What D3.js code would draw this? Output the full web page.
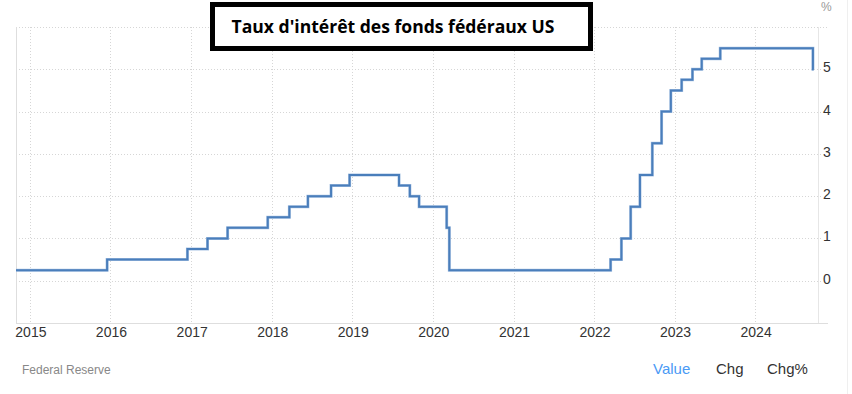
<!DOCTYPE html>
<html>
<head>
<meta charset="utf-8">
<script src="https://cdn.jsdelivr.net/npm/d3@7"></script>
<style>
  body { margin: 0; background: #fff; }
  svg { display: block; font-family: "Liberation Sans", Arial, sans-serif; }
</style>
</head>
<body>
<div id="chart"></div>
<script>
"use strict";

// Size of SVG
const w = 852;
const h = 394;

// Federal funds rate (upper bound), change dates and new level
const changeDates = [
  "2014-10-30", "2015-12-17", "2016-12-15", "2017-03-16", "2017-06-15",
  "2017-12-14", "2018-03-22", "2018-06-14", "2018-09-27", "2018-12-20",
  "2019-08-01", "2019-09-19", "2019-10-31", "2020-03-04", "2020-03-16",
  "2022-03-17", "2022-05-05", "2022-06-16", "2022-07-28", "2022-09-22",
  "2022-11-03", "2022-12-15", "2023-02-02", "2023-03-23", "2023-05-04",
  "2023-07-27", "2024-09-19", "2024-09-23"
];
const rates = [
  0.25, 0.50, 0.75, 1.00, 1.25,
  1.50, 1.75, 2.00, 2.25, 2.50,
  2.25, 2.00, 1.75, 1.25, 0.25,
  0.50, 1.00, 1.75, 2.50, 3.25,
  4.00, 4.50, 4.75, 5.00, 5.25,
  5.50, 5.00, 5.00
];
const yearTicks = [2015, 2016, 2017, 2018, 2019, 2020, 2021, 2022, 2023, 2024];
const rateTicks = [0, 1, 2, 3, 4, 5];
const gridRates = [0, 1, 2, 3, 4, 5, 6];

const parse = d3.timeParse("%Y-%m-%d");
const data = changeDates.map((d, i) => ({ date: parse(d), value: rates[i] }));

// Plot area
const plotLeft = 16, plotRight = 818, plotTop = 27, plotBottom = 323;

const x = d3.scaleTime()
  .domain([parse("2014-10-30"), parse("2024-10-12")])
  .range([plotLeft, plotRight]);

const y = d3.scaleLinear()
  .domain([-1, 6])
  .range([plotBottom, plotTop]);

const svg = d3.select("#chart")
  .append("svg")
  .attr("width", w)
  .attr("height", h);

// Horizontal grid
svg.append("g")
  .selectAll("line")
  .data(gridRates)
  .join("line")
  .attr("x1", plotLeft)
  .attr("x2", d => d === 6 ? 828 : 822)
  .attr("y1", d => Math.round(y(d)) + 0.5)
  .attr("y2", d => Math.round(y(d)) + 0.5)
  .attr("stroke", "#d6d6d6")
  .attr("stroke-dasharray", "1,2");

// Vertical grid at each year
svg.append("g")
  .selectAll("line")
  .data(yearTicks)
  .join("line")
  .attr("x1", d => Math.round(x(new Date(d, 0, 1))) + 0.5)
  .attr("x2", d => Math.round(x(new Date(d, 0, 1))) + 0.5)
  .attr("y1", plotTop)
  .attr("y2", plotBottom)
  .attr("stroke", "#d6d6d6")
  .attr("stroke-dasharray", "1,2");

// Frame lines
svg.append("line")
  .attr("x1", plotLeft + 0.5).attr("x2", plotLeft + 0.5)
  .attr("y1", plotTop).attr("y2", plotBottom)
  .attr("stroke", "#dedede");
svg.append("line")
  .attr("x1", plotRight + 0.5).attr("x2", plotRight + 0.5)
  .attr("y1", plotTop).attr("y2", plotBottom)
  .attr("stroke", "#e6e6e6");
svg.append("line")
  .attr("x1", plotLeft).attr("x2", 828)
  .attr("y1", plotBottom + 0.5).attr("y2", plotBottom + 0.5)
  .attr("stroke", "#dedede");
svg.append("line")
  .attr("x1", 847.5).attr("x2", 847.5)
  .attr("y1", 0).attr("y2", h)
  .attr("stroke", "#efefef");

// Step line
const line = d3.line()
  .x(d => x(d.date))
  .y(d => y(d.value))
  .curve(d3.curveStepAfter);

svg.append("path")
  .datum(data)
  .attr("d", line)
  .attr("fill", "none")
  .attr("stroke", "#a9c3e3")
  .attr("stroke-width", 3);

svg.append("path")
  .datum(data)
  .attr("d", line)
  .attr("fill", "none")
  .attr("stroke", "#4a7ebb")
  .attr("stroke-width", 2);

// X axis labels
svg.append("g")
  .selectAll("text")
  .data(yearTicks)
  .join("text")
  .attr("x", d => x(new Date(d, 0, 1)) + 1)
  .attr("y", 337)
  .attr("text-anchor", "middle")
  .style("font-size", "14px")
  .style("fill", "#333")
  .text(d => d);

// Y axis labels (right side)
svg.append("g")
  .selectAll("text")
  .data(rateTicks)
  .join("text")
  .attr("x", 823)
  .attr("y", d => y(d) + 3)
  .style("font-size", "14px")
  .style("fill", "#333")
  .text(d => d);

svg.append("text")
  .attr("x", 821)
  .attr("y", 11)
  .style("font-size", "12px")
  .style("fill", "#999")
  .text("%");

// Title box
svg.append("rect")
  .attr("x", 212.5)
  .attr("y", 4.5)
  .attr("width", 378)
  .attr("height", 44)
  .attr("fill", "#fff")
  .attr("stroke", "#000")
  .attr("stroke-width", 5);

svg.append("text")
  .attr("x", 393)
  .attr("y", 33)
  .attr("text-anchor", "middle")
  .attr("textLength", 323)
  .attr("lengthAdjust", "spacingAndGlyphs")
  .style("font-family", "'Open Sans', sans-serif")
  .style("font-weight", "bold")
  .style("font-size", "18px")
  .style("fill", "#000")
  .text("Taux d'intérêt des fonds fédéraux US");

// Footer
svg.append("text")
  .attr("x", 22)
  .attr("y", 374)
  .style("font-size", "12px")
  .style("fill", "#888")
  .text("Federal Reserve");

const tabs = [
  { label: "Value", x: 653, color: "#4a9af5" },
  { label: "Chg", x: 716, color: "#333" },
  { label: "Chg%", x: 767, color: "#333" }
];
svg.append("g")
  .selectAll("text")
  .data(tabs)
  .join("text")
  .attr("x", d => d.x)
  .attr("y", 374)
  .style("font-size", "15px")
  .style("fill", d => d.color)
  .text(d => d.label);
</script>
</body>
</html>
